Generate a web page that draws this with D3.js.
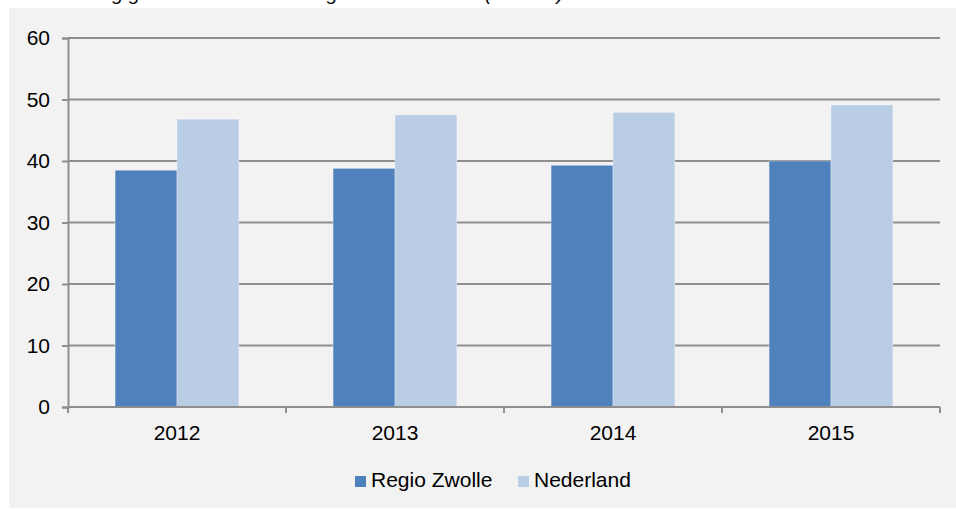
<!DOCTYPE html>
<html>
<head>
<meta charset="utf-8">
<script src="https://cdn.jsdelivr.net/npm/d3@7"></script>
<style>
  body { margin: 0; background: #ffffff; }
  svg { display: block; font-family: "Liberation Sans", Arial, sans-serif; }
</style>
</head>
<body>
<div id="the_chart"></div>
<script>
// data
var years = ["2012", "2013", "2014", "2015"];
var series = ["Regio Zwolle", "Nederland"];
var regioZwolle = [38.5, 38.8, 39.3, 40.0];
var nederland = [46.8, 47.5, 47.9, 49.1];
var yTicks = [0, 10, 20, 30, 40, 50, 60];
var colors = ["#4f81bd", "#b9cde5"];

var w = 956;
var h = 509;

var svg = d3.select("#the_chart")
            .append("svg")
            .attr("width", w)
            .attr("height", h);

// title sits mostly above the cropped picture, only descenders show
svg.append("text")
   .attr("x", 10)
   .attr("y", 0)
   .attr("font-size", 20)
   .attr("font-style", "italic")
   .attr("fill", "#000")
   .text("Ontwikkeling gemiddelde waarde regio en Nederland (x 1.000)");

// grey panel
svg.append("rect")
   .attr("x", 9)
   .attr("y", 8)
   .attr("width", w - 9)
   .attr("height", 500)
   .attr("fill", "#f2f2f2");

var pLeft = 68, pRight = 940, pTop = 38, pBottom = 407;

var yscale = d3.scaleLinear()
               .domain([0, 60])
               .range([pBottom, pTop]);

var xscale = d3.scaleBand()
               .domain(years)
               .range([pLeft, pRight]);

var bw = xscale.bandwidth();
var x1 = d3.scaleBand()
           .domain(series)
           .range([bw * 0.216, bw - bw * 0.216]);

var gridColor = "#8e8e8e";

// gridlines
svg.append("g")
   .selectAll("line")
   .data(yTicks.filter(function(d) { return d > 0; }))
 .enter().append("line")
   .attr("x1", pLeft)
   .attr("x2", pRight)
   .attr("y1", function(d) { return yscale(d); })
   .attr("y2", function(d) { return yscale(d); })
   .attr("stroke", gridColor)
   .attr("stroke-width", 2);

// bars
var rows = years.map(function(y, i) {
    return {year: y, values: [regioZwolle[i], nederland[i]]};
});

var groups = svg.append("g")
   .selectAll("g")
   .data(rows)
 .enter().append("g")
   .attr("transform", function(d) { return "translate(" + xscale(d.year) + ",0)"; });

groups.selectAll("rect")
   .data(function(d) { return d.values.map(function(v, j) { return {s: series[j], v: v, j: j}; }); })
 .enter().append("rect")
   .attr("x", function(d) { return x1(d.s); })
   .attr("width", x1.bandwidth())
   .attr("y", function(d) { return yscale(d.v); })
   .attr("height", function(d) { return pBottom - yscale(d.v); })
   .attr("fill", function(d) { return colors[d.j]; })
   .attr("stroke", "rgba(255,255,255,0.35)")
   .attr("stroke-width", 1);

// y axis
var yaxis = d3.axisLeft(yscale)
              .tickValues(yTicks)
              .tickSize(6)
              .tickPadding(12)
              .tickFormat(d3.format("d"));

var gY = svg.append("g")
   .attr("transform", "translate(" + pLeft + ",0)")
   .call(yaxis);

gY.select(".domain").attr("stroke", gridColor).attr("stroke-width", 2);
gY.selectAll(".tick line").attr("stroke", gridColor).attr("stroke-width", 2);
gY.selectAll(".tick text")
  .attr("font-size", 21)
  .attr("fill", "#000")
  .attr("font-family", "Liberation Sans, Arial, sans-serif");

// x axis: ticks between the categories
svg.append("line")
   .attr("x1", pLeft)
   .attr("x2", pRight)
   .attr("y1", pBottom)
   .attr("y2", pBottom)
   .attr("stroke", gridColor)
   .attr("stroke-width", 2);

var edges = years.map(function(y) { return xscale(y); }).concat([pRight]);
svg.append("g")
   .selectAll("line")
   .data(edges)
 .enter().append("line")
   .attr("x1", function(d) { return d; })
   .attr("x2", function(d) { return d; })
   .attr("y1", pBottom)
   .attr("y2", pBottom + 6)
   .attr("stroke", gridColor)
   .attr("stroke-width", 2);

svg.append("g")
   .selectAll("text")
   .data(years)
 .enter().append("text")
   .attr("x", function(d) { return xscale(d) + bw / 2; })
   .attr("y", 440)
   .attr("text-anchor", "middle")
   .attr("font-size", 21)
   .attr("fill", "#000")
   .text(function(d) { return d; });

// legend
var legendX = [355, 518];
var legend = svg.append("g")
   .selectAll("g")
   .data(series)
 .enter().append("g")
   .attr("transform", function(d, i) { return "translate(" + legendX[i] + ",476)"; });

legend.append("rect")
   .attr("width", 11)
   .attr("height", 11)
   .attr("fill", function(d, i) { return colors[i]; });

legend.append("text")
   .attr("x", 16)
   .attr("y", 11)
   .attr("font-size", 21)
   .attr("fill", "#000")
   .text(function(d) { return d; });
</script>
</body>
</html>
